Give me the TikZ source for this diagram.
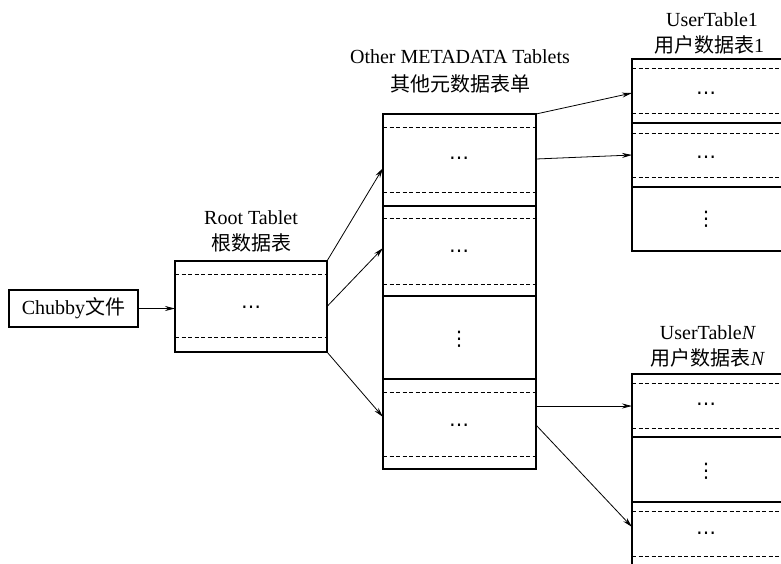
\documentclass[tikz,border=0pt]{standalone}
\usepackage{fontspec}
\setmainfont{Liberation Serif}
\newfontfamily\cjk{Noto Sans CJK SC}
\newfontfamily\symf{DejaVu Sans}
\usetikzlibrary{arrows.meta}
\begin{document}
\begin{tikzpicture}[x=1pt,y=-1pt,
  box/.style={draw,line width=1.4pt,inner sep=0pt,outer sep=0pt},
  sepline/.style={line width=1.4pt},
  dline/.style={line width=0.7pt,dash pattern=on 4pt off 2.5pt},
  conn/.style={-{Stealth[length=10pt,width=5pt]},line width=0.8pt},
  lbl/.style={font=\fontsize{20}{22}\selectfont,inner sep=0pt},
  dots/.style={font=\symf\fontsize{20}{20}\selectfont,inner sep=0pt}]
\useasboundingbox (0,0) rectangle (781,563);
\clip (0,0) rectangle (781,563);
% labels
\node[lbl] (rootla) at (251,218) {Root Tablet};
\node[lbl] (rootlb) at (251,243) {\cjk\fontsize{20}{22}\selectfont 根数据表};
\node[lbl] (othla) at (460,57) {Other METADATA Tablets};
\node[lbl] (othlb) at (460,84) {\cjk\fontsize{20}{22}\selectfont 其他元数据表单};
\node[lbl] (utola) at (712,20) {UserTable1};
\node[lbl] (utolb) at (709,45) {{\cjk\fontsize{20}{22}\selectfont 用户数据表}1};
\node[lbl] (utnla) at (708,333) {UserTable\textit{N}};
\node[lbl] (utnlb) at (708,358) {{\cjk\fontsize{20}{22}\selectfont 用户数据表}\textit{N}};
% boxes
\node[box,minimum width=129pt,minimum height=37pt,font=\fontsize{20}{22}\selectfont] (chubby) at (73.5,308.5) {Chubby{\cjk\fontsize{20}{22}\selectfont 文件}};
\node[box,minimum width=152pt,minimum height=91pt] (root) at (251,306.5) {};
\node[box,minimum width=153pt,minimum height=355pt] (other) at (459.5,291.5) {};
\node[box,minimum width=170pt,minimum height=192pt,anchor=north west] (uto) at (632,59) {};
\node[box,minimum width=170pt,minimum height=210pt,anchor=north west] (utn) at (632,374) {};
% root internals
\draw[dline] (175,274) -- (327,274);
\draw[dline] (175,337) -- (327,337);
\node[dots] (rootd) at (251,310) {⋯};
% other internals
\draw[dline] (383,127) -- (536,127);
\draw[dline] (383,192) -- (536,192);
\draw[sepline] (383,206) -- (536,206);
\draw[dline] (383,218) -- (536,218);
\draw[dline] (383,284) -- (536,284);
\draw[sepline] (383,296) -- (536,296);
\draw[sepline] (383,379) -- (536,379);
\draw[dline] (383,392) -- (536,392);
\draw[dline] (383,456) -- (536,456);
\node[dots] (othd1) at (459,161) {⋯};
\node[dots] (othd2) at (459,254) {⋯};
\node[dots] (othd3) at (459,339) {⋮};
\node[dots] (othd4) at (459,428) {⋯};
% usertable1 internals
\draw[dline] (632,68) -- (781,68);
\draw[dline] (632,113) -- (781,113);
\draw[sepline] (632,123) -- (781,123);
\draw[dline] (632,133) -- (781,133);
\draw[dline] (632,177) -- (781,177);
\draw[sepline] (632,187) -- (781,187);
\node[dots] (utod1) at (706,96) {⋯};
\node[dots] (utod2) at (706,160) {⋯};
\node[dots] (utod3) at (706,219) {⋮};
% usertableN internals
\draw[dline] (632,383) -- (781,383);
\draw[dline] (632,428) -- (781,428);
\draw[sepline] (632,437) -- (781,437);
\draw[sepline] (632,502) -- (781,502);
\draw[dline] (632,511) -- (781,511);
\draw[dline] (632,556) -- (781,556);
\node[dots] (utnd1) at (706,407) {⋯};
\node[dots] (utnd2) at (706,471) {⋮};
\node[dots] (utnd3) at (706,536) {⋯};
% connector end points
\coordinate (oa) at (383,168);
\coordinate (ob) at (383,248);
\coordinate (oc) at (383,417);
\coordinate (sa) at (536,159);
\coordinate (ua) at (632,93);
\coordinate (ub) at (632,155);
\coordinate (sb) at (536,406);
\coordinate (sc) at (536,425);
\coordinate (na) at (632,406);
\coordinate (nb) at (632,527);
% connectors
\draw[conn] (chubby.east) -- (root.west |- chubby.east);
\draw[conn] (root.north east) -- (oa);
\draw[conn] (root.east) -- (ob);
\draw[conn] (root.south east) -- (oc);
\draw[conn] (other.north east) -- (ua);
\draw[conn] (sa) -- (ub);
\draw[conn] (sb) -- (na);
\draw[conn] (sc) -- (nb);
\end{tikzpicture}
\end{document}
